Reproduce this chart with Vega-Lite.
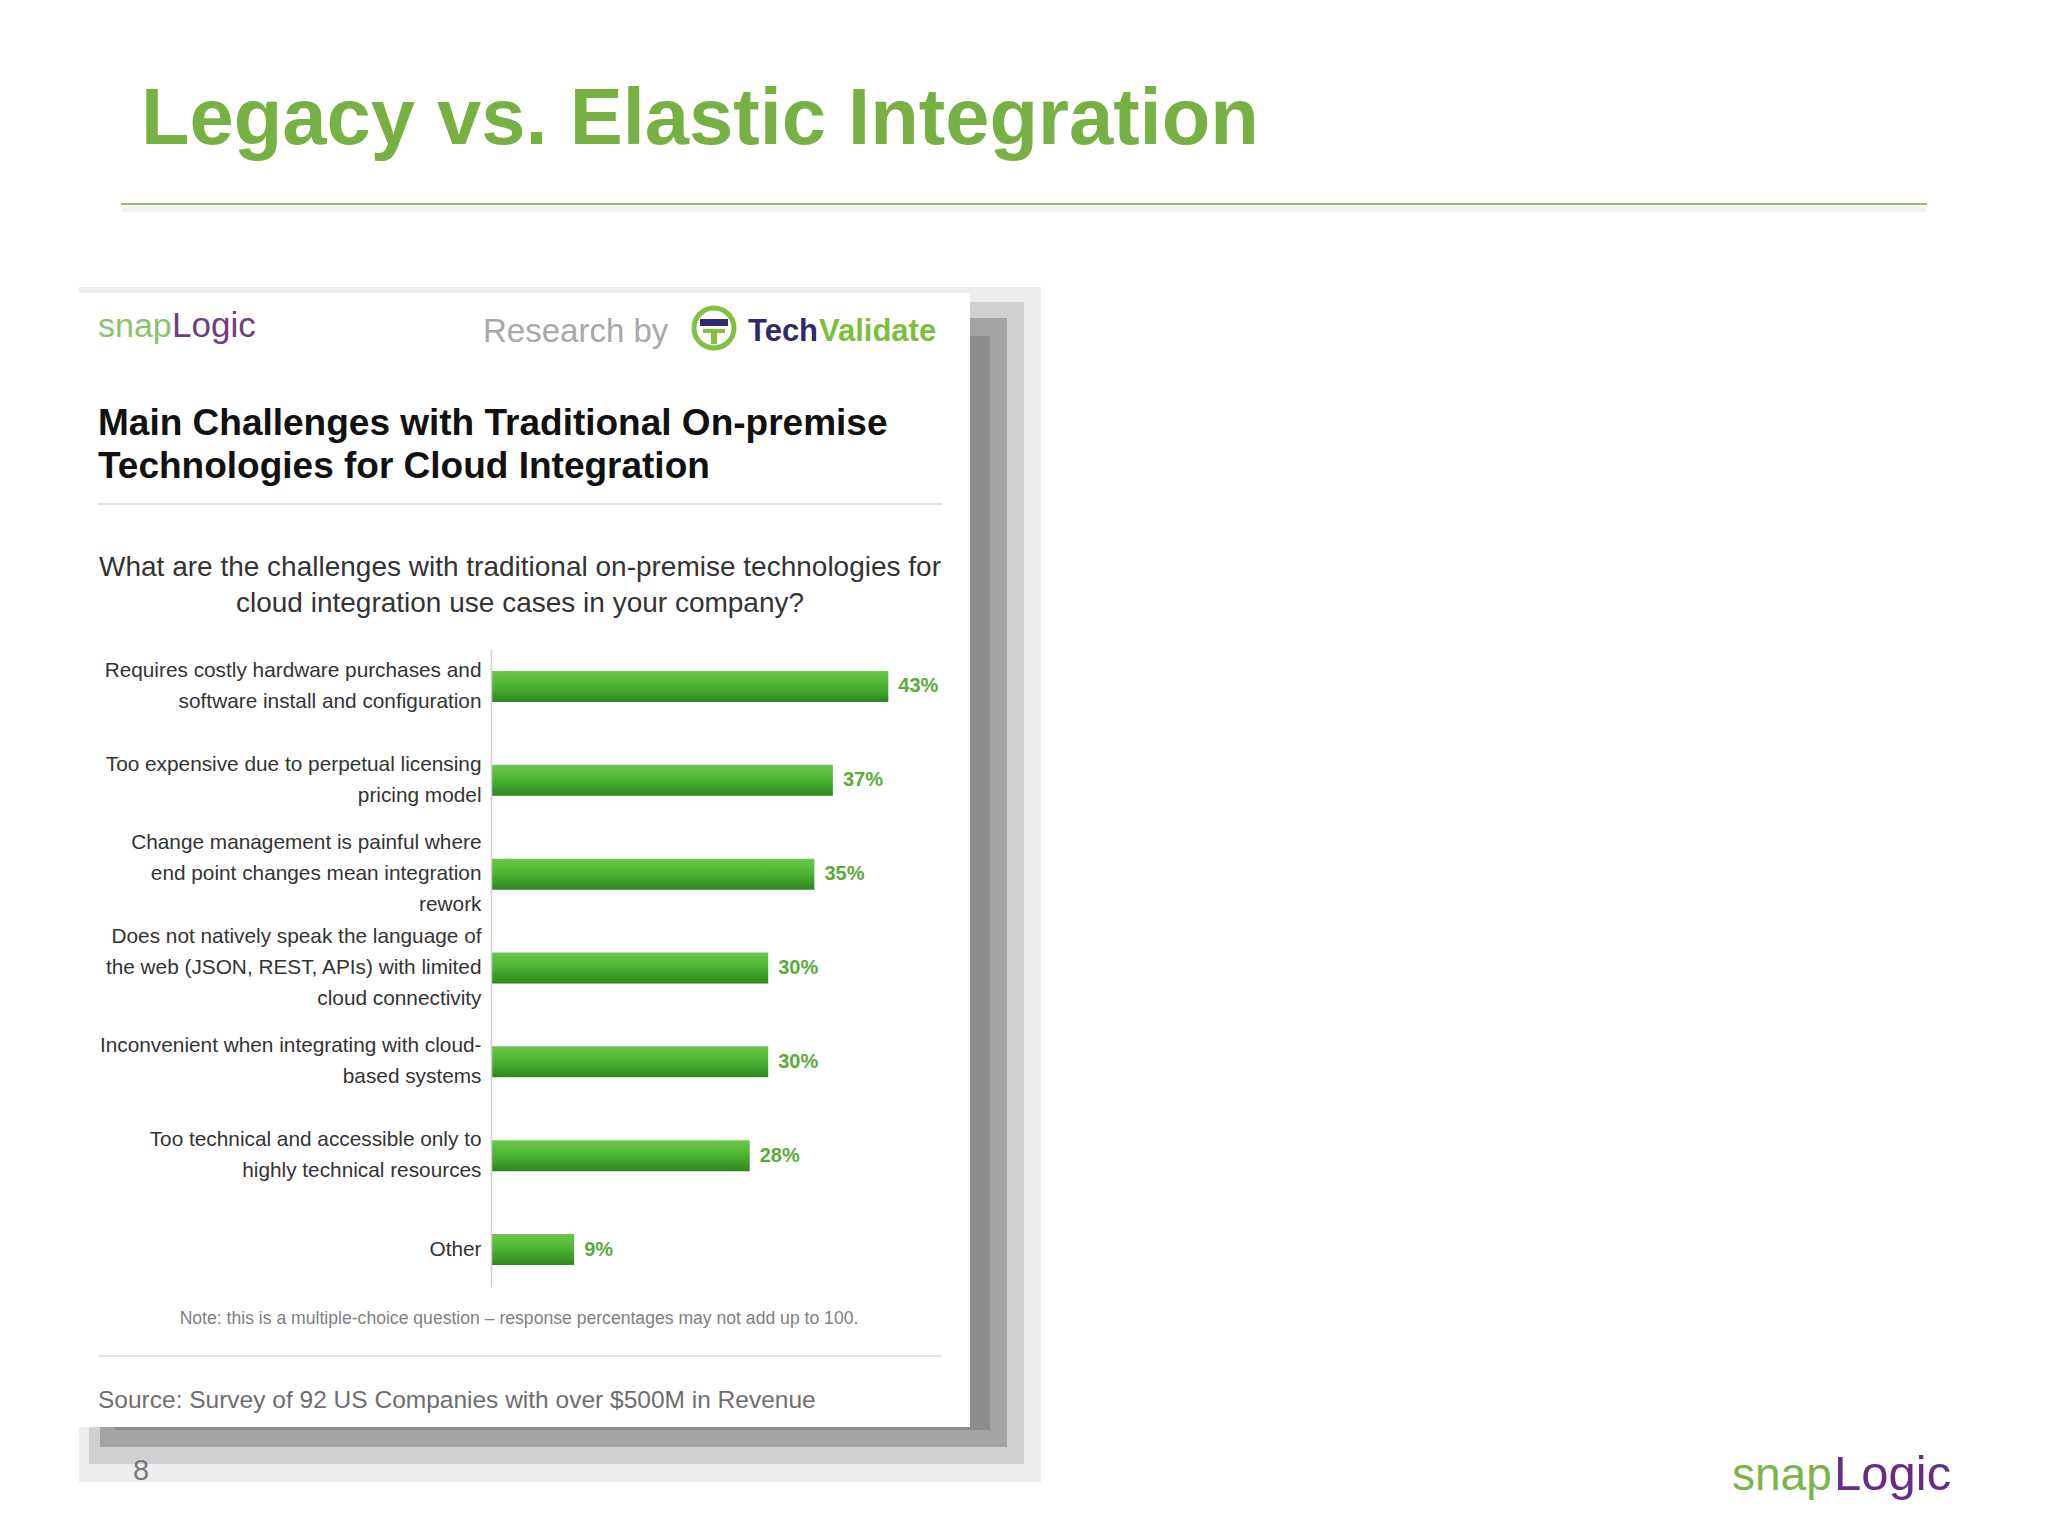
{
  "$schema": "https://vega.github.io/schema/vega-lite/v6.json",
  "width": 462,
  "height": 638,
  "autosize": {"type": "none"},
  "padding": {"left": 491, "top": 649, "right": 1095, "bottom": 249},
  "background": "#ffffff",
  "config": {"view": {"stroke": null}, "font": "Liberation Sans"},
  "data": {
    "values": [
      {"challenge": "Requires costly hardware purchases and\nsoftware install and configuration", "pct": 0.43},
      {"challenge": "Too expensive due to perpetual licensing\npricing model", "pct": 0.37},
      {"challenge": "Change management is painful where\nend point changes mean integration\nrework", "pct": 0.35},
      {"challenge": "Does not natively speak the language of\nthe web (JSON, REST, APIs) with limited\ncloud connectivity", "pct": 0.30},
      {"challenge": "Inconvenient when integrating with cloud-\nbased systems", "pct": 0.30},
      {"challenge": "Too technical and accessible only to\nhighly technical resources", "pct": 0.28},
      {"challenge": "Other", "pct": 0.09}
    ]
  },
  "layer": [
    {"data": {"values": [{}]}, "mark": {"type": "rect", "color": "#eeeef0"},
     "encoding": {"x": {"value": -412}, "x2": {"value": 550}, "y": {"value": -362}, "y2": {"value": 833}}},
    {"data": {"values": [{}]}, "mark": {"type": "rect", "color": "#d0d0d2"},
     "encoding": {"x": {"value": -402}, "x2": {"value": 533}, "y": {"value": -347}, "y2": {"value": 815}}},
    {"data": {"values": [{}]}, "mark": {"type": "rect", "color": "#a4a4a6"},
     "encoding": {"x": {"value": -391}, "x2": {"value": 516}, "y": {"value": -331}, "y2": {"value": 798}}},
    {"data": {"values": [{}]}, "mark": {"type": "rect", "color": "#8c8c8e"},
     "encoding": {"x": {"value": -376}, "x2": {"value": 499}, "y": {"value": -313}, "y2": {"value": 781}}},
    {"data": {"values": [{}]}, "mark": {"type": "rect", "color": "#ffffff"},
     "encoding": {"x": {"value": -428}, "x2": {"value": 479}, "y": {"value": -356}, "y2": {"value": 778}}},
    {"data": {"values": [{}]}, "mark": {"type": "rule", "color": "#f2f2f2", "strokeWidth": 6},
     "encoding": {"x": {"value": -370}, "x2": {"value": 1436}, "y": {"value": -440}}},
    {"data": {"values": [{}]}, "mark": {"type": "rule", "color": "#8fc06d", "strokeWidth": 2},
     "encoding": {"x": {"value": -370}, "x2": {"value": 1436}, "y": {"value": -445}}},
    {"data": {"values": [{}]}, "mark": {"type": "text", "text": "Legacy vs. Elastic Integration", "fontSize": 79.5, "fontWeight": "bold", "color": "#77b043", "align": "left", "baseline": "alphabetic"},
     "encoding": {"x": {"value": -350}, "y": {"value": -505}}},
    {"data": {"values": [{}]}, "mark": {"type": "text", "text": "snap", "fontSize": 34, "color": "#8dc26b", "align": "left", "baseline": "alphabetic"},
     "encoding": {"x": {"value": -393}, "y": {"value": -312}}},
    {"data": {"values": [{}]}, "mark": {"type": "text", "text": "Logic", "fontSize": 35, "color": "#6d3f80", "align": "left", "baseline": "alphabetic"},
     "encoding": {"x": {"value": -319}, "y": {"value": -312}}},
    {"data": {"values": [{}]}, "mark": {"type": "text", "text": "Research by", "fontSize": 33, "color": "#a8a8a8", "align": "left", "baseline": "alphabetic"},
     "encoding": {"x": {"value": -8}, "y": {"value": -307}}},
    {"data": {"values": [{}]}, "mark": {"type": "point", "shape": "circle", "size": 1600, "filled": false, "stroke": "#82c044", "strokeWidth": 5, "opacity": 1},
     "encoding": {"x": {"value": 223}, "y": {"value": -321}}},
    {"data": {"values": [{}]}, "mark": {"type": "rect", "color": "#2e2c6e"},
     "encoding": {"x": {"value": 209}, "x2": {"value": 237}, "y": {"value": -330}, "y2": {"value": -323}}},
    {"data": {"values": [{}]}, "mark": {"type": "rect", "color": "#82c044"},
     "encoding": {"x": {"value": 212}, "x2": {"value": 234}, "y": {"value": -320}, "y2": {"value": -316}}},
    {"data": {"values": [{}]}, "mark": {"type": "rect", "color": "#82c044"},
     "encoding": {"x": {"value": 220}, "x2": {"value": 226}, "y": {"value": -316}, "y2": {"value": -305}}},
    {"data": {"values": [{}]}, "mark": {"type": "text", "text": "Tech", "fontSize": 31, "fontWeight": "bold", "color": "#2e2a6c", "align": "left", "baseline": "alphabetic"},
     "encoding": {"x": {"value": 257}, "y": {"value": -308}}},
    {"data": {"values": [{}]}, "mark": {"type": "text", "text": "Validate", "fontSize": 31, "fontWeight": "bold", "color": "#7dbf3c", "align": "left", "baseline": "alphabetic"},
     "encoding": {"x": {"value": 328}, "y": {"value": -308}}},
    {"data": {"values": [{}]}, "mark": {"type": "text", "text": ["Main Challenges with Traditional On-premise", "Technologies for Cloud Integration"], "fontSize": 37, "fontWeight": "bold", "color": "#111111", "align": "left", "baseline": "alphabetic", "lineHeight": 43},
     "encoding": {"x": {"value": -393}, "y": {"value": -214}}},
    {"data": {"values": [{}]}, "mark": {"type": "rule", "color": "#e3e3e3", "strokeWidth": 2},
     "encoding": {"x": {"value": -393}, "x2": {"value": 451}, "y": {"value": -145}}},
    {"data": {"values": [{}]}, "mark": {"type": "text", "text": ["What are the challenges with traditional on-premise technologies for", "cloud integration use cases in your company?"], "fontSize": 28, "color": "#333333", "align": "center", "baseline": "alphabetic", "lineHeight": 36},
     "encoding": {"x": {"value": 29}, "y": {"value": -73}}},
    {"data": {"values": [{}]}, "mark": {"type": "text", "text": "Note: this is a multiple-choice question \u2013 response percentages may not add up to 100.", "fontSize": 17.6, "color": "#808080", "align": "center", "baseline": "alphabetic"},
     "encoding": {"x": {"value": 28}, "y": {"value": 675}}},
    {"data": {"values": [{}]}, "mark": {"type": "rule", "color": "#e5e5e5", "strokeWidth": 2},
     "encoding": {"x": {"value": -393}, "x2": {"value": 451}, "y": {"value": 707}}},
    {"data": {"values": [{}]}, "mark": {"type": "text", "text": "Source: Survey of 92 US Companies with over $500M in Revenue", "fontSize": 24.5, "color": "#6e6e6e", "align": "left", "baseline": "alphabetic"},
     "encoding": {"x": {"value": -393}, "y": {"value": 759}}},
    {"data": {"values": [{}]}, "mark": {"type": "text", "text": "8", "fontSize": 29, "color": "#7a7a7a", "align": "left", "baseline": "alphabetic"},
     "encoding": {"x": {"value": -358}, "y": {"value": 831}}},
    {"data": {"values": [{}]}, "mark": {"type": "text", "text": "snap", "fontSize": 46, "color": "#79b54a", "align": "left", "baseline": "alphabetic"},
     "encoding": {"x": {"value": 1241}, "y": {"value": 841}}},
    {"data": {"values": [{}]}, "mark": {"type": "text", "text": "Logic", "fontSize": 49, "color": "#652d86", "align": "left", "baseline": "alphabetic"},
     "encoding": {"x": {"value": 1343}, "y": {"value": 841}}},
    {
      "mark": {"type": "bar", "color": {"gradient": "linear", "x1": 0, "y1": 0, "x2": 0, "y2": 1, "stops": [{"offset": 0, "color": "#6cc64b"}, {"offset": 0.45, "color": "#4db634"}, {"offset": 1, "color": "#2e861f"}]}},
      "encoding": {
        "y": {"field": "challenge", "type": "nominal", "sort": null,
              "scale": {"paddingInner": 0.67, "paddingOuter": 0.234},
              "axis": {"title": null, "ticks": false, "domain": true, "domainColor": "#d0d0d0", "domainWidth": 1.5, "grid": false, "zindex": 1,
                       "labelExpr": "split(datum.label, '\\n')", "labelFontSize": 20.8, "labelColor": "#333333", "labelFont": "Liberation Sans",
                       "labelLineHeight": 31, "labelPadding": 10, "labelLimit": 0,
                       "labelOffset": {"expr": "-(length(split(datum.value, '\\n')) - 1) * 15.5"}}},
        "x": {"field": "pct", "type": "quantitative", "scale": {"domain": [0, 0.5]}, "axis": null}
      }
    },
    {
      "mark": {"type": "text", "align": "left", "baseline": "middle", "dx": 10, "fontSize": 20, "fontWeight": "bold", "color": "#5aac38"},
      "encoding": {
        "y": {"field": "challenge", "type": "nominal", "sort": null},
        "x": {"field": "pct", "type": "quantitative"},
        "text": {"field": "pct", "type": "quantitative", "format": ".0%"}
      }
    }
  ]
}
